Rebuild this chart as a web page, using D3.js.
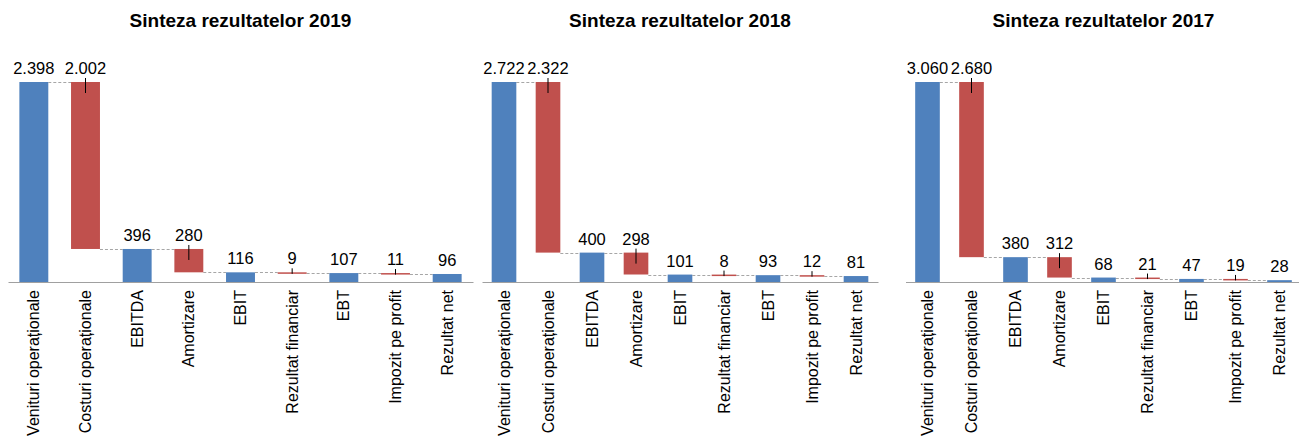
<!DOCTYPE html>
<html>
<head>
<meta charset="utf-8">
<script src="https://cdn.jsdelivr.net/npm/d3@7"></script>
<style>
  body { margin: 0; background: #fff; }
  text { font-family: Arial, "Liberation Sans", sans-serif; fill: #000; }
</style>
</head>
<body>
<div id="chart"></div>
<script>
// categories and values
var categories = ["Venituri operaționale", "Costuri operaționale", "EBITDA", "Amortizare",
                  "EBIT", "Rezultat financiar", "EBT", "Impozit pe profit", "Rezultat net"];
var barTypes = ["total", "minus", "total", "minus", "total", "minus", "total", "minus", "total"];
var values2019 = [2398, 2002, 396, 280, 116, 9, 107, 11, 96];
var values2018 = [2722, 2322, 400, 298, 101, 8, 93, 12, 81];
var values2017 = [3060, 2680, 380, 312, 68, 21, 47, 19, 28];
var titles = ["Sinteza rezultatelor 2019", "Sinteza rezultatelor 2018", "Sinteza rezultatelor 2017"];

var width = 1299, height = 447;
var blue = "#4F81BD", red = "#C0504D";

// x extent of each panel
var panels = [
  {title: titles[0], values: values2019, x0: 8, x1: 473},
  {title: titles[1], values: values2018, x0: 482, x1: 878},
  {title: titles[2], values: values2017, x0: 905.5, x1: 1301.5}
];

var axisY = 282, topY = 82;

var ro = d3.formatLocale({decimal: ",", thousands: ".", grouping: [3], currency: ["", ""]});
var fmt = ro.format(",d");

var svg = d3.select("#chart")
    .append("svg")
    .attr("width", width)
    .attr("height", height);

panels.forEach(function(p) {
  // build waterfall segments
  var level = 0;
  var data = p.values.map(function(v, i) {
    var d = {cat: categories[i], type: barTypes[i], value: v};
    if (d.type == "total") { d.lo = 0; d.hi = v; level = v; }
    else { d.hi = level; d.lo = level - v; level = d.lo; }
    d.end = level;
    return d;
  });

  var x = d3.scaleBand()
      .domain(categories)
      .range([p.x0, p.x1])
      .paddingInner(0.44)
      .paddingOuter(0.22);

  var y = d3.scaleLinear()
      .domain([0, p.values[0]])
      .range([axisY, topY]);

  var g = svg.append("g");

  // title
  g.append("text")
    .attr("x", (p.x0 + p.x1) / 2)
    .attr("y", 26.5)
    .attr("text-anchor", "middle")
    .style("font-size", "19px")
    .style("font-weight", "bold")
    .text(p.title);

  // connectors
  g.selectAll(".conn")
    .data(data.slice(0, -1))
    .enter().append("line")
    .attr("x1", function(d) { return x(d.cat) + x.bandwidth(); })
    .attr("x2", function(d, i) { return x(data[i + 1].cat); })
    .attr("y1", function(d) { return Math.round(y(d.end)) + 0.5; })
    .attr("y2", function(d) { return Math.round(y(d.end)) + 0.5; })
    .attr("stroke", "#A6A6A6")
    .attr("stroke-width", 1)
    .attr("stroke-dasharray", "3,2");

  // bars
  g.selectAll(".bar")
    .data(data)
    .enter().append("rect")
    .attr("x", function(d) { return x(d.cat); })
    .attr("width", x.bandwidth())
    .attr("y", function(d) { return y(d.hi); })
    .attr("height", function(d) { return Math.max(1.5, y(d.lo) - y(d.hi)); })
    .attr("fill", function(d) { return d.type == "total" ? blue : red; });

  // small marker line on the decreasing bars
  g.selectAll(".tick-mark")
    .data(data.filter(function(d) { return d.type == "minus"; }))
    .enter().append("line")
    .attr("x1", function(d) { return x(d.cat) + x.bandwidth() / 2; })
    .attr("x2", function(d) { return x(d.cat) + x.bandwidth() / 2; })
    .attr("y1", function(d) { return y(d.hi) - 4; })
    .attr("y2", function(d) { return Math.min(y(d.hi) + 11, Math.max(y(d.lo), y(d.hi) + 1.5)); })
    .attr("stroke", "#000")
    .attr("stroke-width", 1);

  // value labels
  g.selectAll(".val")
    .data(data)
    .enter().append("text")
    .attr("x", function(d) { return x(d.cat) + x.bandwidth() / 2; })
    .attr("y", function(d) { return y(d.hi) - 8; })
    .attr("text-anchor", "middle")
    .style("font-size", "16.5px")
    .text(function(d) { return fmt(d.value); });

  // x axis
  var xAxis = d3.axisBottom(x).tickSize(0).tickSizeOuter(0);
  var ax = g.append("g")
    .attr("transform", "translate(0," + axisY + ")")
    .call(xAxis);
  ax.select(".domain").attr("stroke", "#A0A0A0");
  ax.selectAll(".tick text")
    .attr("transform", "rotate(-90)")
    .attr("text-anchor", "end")
    .attr("x", -8)
    .attr("y", 0)
    .attr("dy", "0.35em")
    .style("font-size", "16px")
    .style("font-family", "Arial, 'Liberation Sans', sans-serif");
});
</script>
</body>
</html>
